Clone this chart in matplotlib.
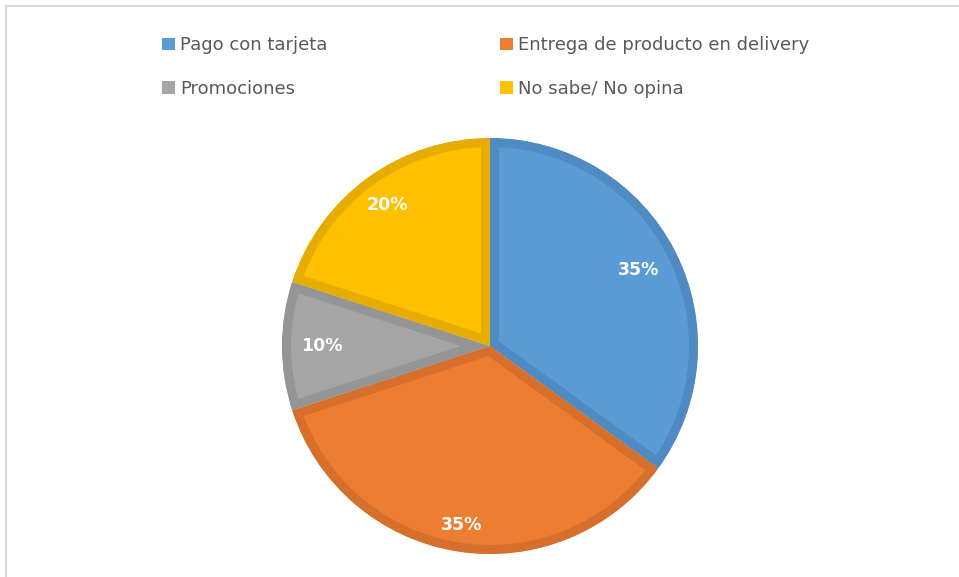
import matplotlib.pyplot as plt
import numpy as np
from matplotlib.patches import Patch
from matplotlib.lines import Line2D

labels = ['Pago con tarjeta', 'Entrega de producto en delivery', 'Promociones', 'No sabe/ No opina']
values = [35, 35, 10, 20]
colors = ['#5B9BD5', '#ED7D31', '#A5A5A5', '#FFC000']
edges = ['#4F8AC2', '#D56F2B', '#959595', '#E6AC00']
# label distance from centre (fraction of radius), excel "best fit" look
label_dist = [0.80, 0.87, 0.81, 0.84]

W, H = 959, 577
fig = plt.figure(figsize=(W / 100, H / 100), dpi=100)

# pie axes placed so centre ~ (490, 346) px, radius ~208 px
cx, cy, r = 490, 346, 208
ax = fig.add_axes([(cx - r) / W, (H - cy - r) / H, 2 * r / W, 2 * r / H])

wedges, _ = ax.pie(values, colors=colors, startangle=90, counterclock=False, radius=1)
for w, ec in zip(wedges, edges):
    w.set_edgecolor(ec)
    w.set_linewidth(13)  # half of it is clipped away -> ~9px inner stroke
    w.set_clip_path(w)
    w.set_clip_on(True)

for w, v, d in zip(wedges, values, label_dist):
    ang = np.deg2rad((w.theta1 + w.theta2) / 2)
    ax.text(d * np.cos(ang), d * np.sin(ang), f'{v}%', color='white',
            fontsize=12.5, fontweight='bold', ha='center', va='center')

ax.set_xlim(-1, 1)
ax.set_ylim(-1, 1)
ax.set_aspect('equal')
ax.axis('off')

# legend filled row by row like the original (matplotlib fills by column)
order = [0, 2, 1, 3]
handles = [Patch(facecolor=colors[i], edgecolor='none') for i in order]
leg = fig.legend(handles, [labels[i] for i in order], loc='upper left',
                 bbox_to_anchor=(146 / W, 1 - 20 / H),
                 ncol=2, frameon=False, fontsize=13, handlelength=0.7, handleheight=0.7,
                 handletextpad=0.3, columnspacing=9.55, labelspacing=1.42,
                 labelcolor='#595959')

# thin chart-area frame (top and left visible)
fig.add_artist(Line2D([5.5 / W, 5.5 / W], [0, 1 - 6 / H], color='#D9D9D9', lw=1.5))
fig.add_artist(Line2D([5.5 / W, 1], [1 - 6 / H, 1 - 6 / H], color='#D9D9D9', lw=1.5))

fig.savefig('out.png', dpi=100)
